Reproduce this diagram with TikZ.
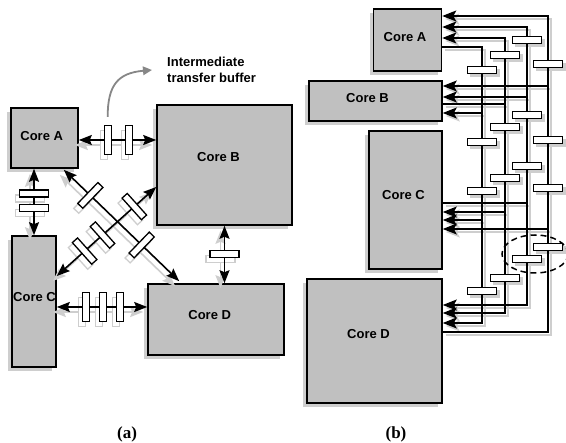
\documentclass[tikz,border=0pt]{standalone}
\usepackage{fontspec}
\setmainfont{Liberation Sans}
\newfontfamily\labelfont{Liberation Serif}
\usetikzlibrary{arrows.meta,shadows,calc,shapes.geometric}
\definecolor{corefill}{RGB}{192,192,192}
\definecolor{shade}{RGB}{206,206,206}
\definecolor{curvegray}{RGB}{135,135,135}
\tikzset{
  lcol/.style={draw=black},
  bfill/.style={fill=white},
  core/.style={draw=black, line width=1.6pt, fill=corefill, inner sep=0pt,
    drop shadow={shadow xshift=-4pt, shadow yshift=-4pt, fill=shade, opacity=1}},
  coretext/.style={font=\bfseries\fontsize{13}{15}\selectfont, inner sep=0pt},
  linka/.style={lcol, line width=1.6pt, >={Stealth[length=13pt,width=10pt,inset=2pt]}},
  bufa/.style={lcol, bfill, line width=1.3pt, minimum width=7pt, minimum height=29pt, inner sep=0pt, sloped},
  wireb/.style={lcol, line width=1.6pt, >={Stealth[length=14pt,width=11pt,inset=3pt]}},
  bufb/.style={lcol, bfill, line width=1.4pt, minimum width=29pt, minimum height=7pt, inner sep=0pt},
  caption/.style={font=\labelfont\bfseries\fontsize{17}{20}\selectfont, inner sep=0pt},
}
\newcommand\ConnsA[1]{%
  \draw[linka,<->] (A1.east |- 0,140) -- node[bufa,pos=.373](#1ab1){} node[bufa,pos=.65](#1ab2){} (B1.west |- 0,140);
  \draw[linka,<->] (C1.north |- A1.south) -- node[bufa,pos=.37](#1ac1){} node[bufa,pos=.59](#1ac2){} (C1.north);
  \draw[linka,<->] (B1.south) -- node[bufa,pos=.49](#1bd){} (B1.south |- D1.north);
  \draw[linka,<->] (C1.east |- 0,307) -- node[bufa,pos=.326](#1cd1){} node[bufa,pos=.511](#1cd2){} node[bufa,pos=.696](#1cd3){} (D1.west |- 0,307);
  \draw[linka,<->] ($(A1.south east)+(-15,1)$) -- node[bufa,pos=.23](#1ad1){} node[bufa,pos=.675](#1ad2){} ($(D1.north west)+(32,-2)$);
  \draw[linka,<->] (C1.east |- 0,276) -- node[bufa,pos=.28](#1cb1){} node[bufa,pos=.46](#1cb2){} node[bufa,pos=.78](#1cb3){} (B1.west |- 0,187);
}
\newcommand\WiresB[1]{%
  % bus of core A
  \draw[wireb,->] (A2.east |- 0,47) -| (482,323) -- (D2.east |- 0,323);
  \draw[wireb,->] (482,113) -- (B2.east |- 0,113);
  \draw[wireb,->] (482,220) -- (C2.east |- 0,220);
  % bus of core B
  \draw[wireb,->] (B2.east |- 0,104) -| (505,38) -- (A2.east |- 0,38);
  \draw[wireb,->] (505,104) -- (505,313) -- (D2.east |- 0,313);
  \draw[wireb,->] (505,212) -- (C2.east |- 0,212);
  % bus of core C
  \draw[wireb,->] (C2.east |- 0,203) -| (527,27) -- (A2.east |- 0,27);
  \draw[wireb,->] (527,203) -- (527,305) -- (D2.east |- 0,305);
  \draw[wireb,->] (527,97) -- (B2.east |- 0,97);
  % bus of core D
  \draw[wireb,->] (D2.east |- 0,332) -| (548,16) -- (A2.east |- 0,16);
  \draw[wireb,->] (548,86) -- (B2.east |- 0,86);
  \draw[wireb,->] (548,229) -- (C2.east |- 0,229);
  % buffers
  \node[bufb] (#1a1) at (482,70) {};
  \node[bufb] (#1a2) at (482,142) {};
  \node[bufb] (#1a3) at (482,191) {};
  \node[bufb] (#1a4) at (482,291) {};
  \node[bufb] (#1b1) at (505,55) {};
  \node[bufb] (#1b2) at (505,127) {};
  \node[bufb] (#1b3) at (505,178) {};
  \node[bufb] (#1b4) at (505,278) {};
  \node[bufb] (#1c1) at (527,40) {};
  \node[bufb] (#1c2) at (527,115) {};
  \node[bufb] (#1c3) at (527,166) {};
  \node[bufb] (#1c4) at (527,259) {};
  \node[bufb] (#1d1) at (548,64) {};
  \node[bufb] (#1d2) at (548,140) {};
  \node[bufb] (#1d3) at (548,188) {};
  \node[bufb] (#1d4) at (548,247) {};
}
\begin{document}
\begin{tikzpicture}[x=1pt,y=-1pt]
\useasboundingbox (0,0) rectangle (566,443);
\fill[white] (0,0) rectangle (566,443);

% ---------- (a) ----------
\node[core, minimum width=67pt, minimum height=60pt] (A1) at (44.5,138) {};
\node[core, minimum width=135pt, minimum height=120pt] (B1) at (224.5,165) {};
\node[core, minimum width=44pt, minimum height=131pt] (C1) at (34,301.5) {};
\node[core, minimum width=136pt, minimum height=71pt] (D1) at (216,319.5) {};
\node[coretext] (tA1) at (41.7,136) {Core A};
\node[coretext] (tB1) at (218.5,157.5) {Core B};
\node[coretext] (tC1) at (34.5,297) {Core C};
\node[coretext] (tD1) at (209.7,315) {Core D};

\begin{scope}[transform canvas={shift={(-4pt,-5pt)}}, lcol/.style={draw=shade}]
  \ConnsA{s}
\end{scope}
\ConnsA{m}

\node[font=\bfseries\fontsize{13}{16}\selectfont, align=left, anchor=west, inner sep=0pt] (ttb) at (167,70) {Intermediate\\transfer buffer};
\draw[curvegray, line width=1.8pt, -{Triangle[length=9pt,width=8.5pt]}]
  ($(mab1.north)+(0,-8)$) .. controls +(0,-32) and +(-34,3) .. ($(ttb.west)+(-15,0)$);

% ---------- (b) ----------
\node[core, minimum width=68pt, minimum height=62pt] (A2) at (407.5,40) {};
\node[core, minimum width=133pt, minimum height=40pt] (B2) at (375.5,101) {};
\node[core, minimum width=73pt, minimum height=138pt] (C2) at (405.5,200) {};
\node[core, minimum width=135pt, minimum height=124pt] (D2) at (374.5,341) {};
\node[coretext] (tA2) at (405,37) {Core A};
\node[coretext] (tB2) at (367.5,98) {Core B};
\node[coretext] (tC2) at (403.5,195) {Core C};
\node[coretext] (tD2) at (368.5,334) {Core D};

\begin{scope}[transform canvas={shift={(3pt,-3pt)}}, lcol/.style={draw=shade}, bfill/.style={fill=shade}]
  \WiresB{s}
\end{scope}
\WiresB{m}

\node[draw=black, ellipse, dashed, dash pattern=on 6pt off 4pt, line width=1.5pt,
  minimum width=66pt, minimum height=38pt, inner sep=0pt] (hl) at (535,254) {};

% captions
\node[caption] (capa) at (127,434) {(a)};
\node[caption] (capb) at (396,434) {(b)};
\end{tikzpicture}
\end{document}
